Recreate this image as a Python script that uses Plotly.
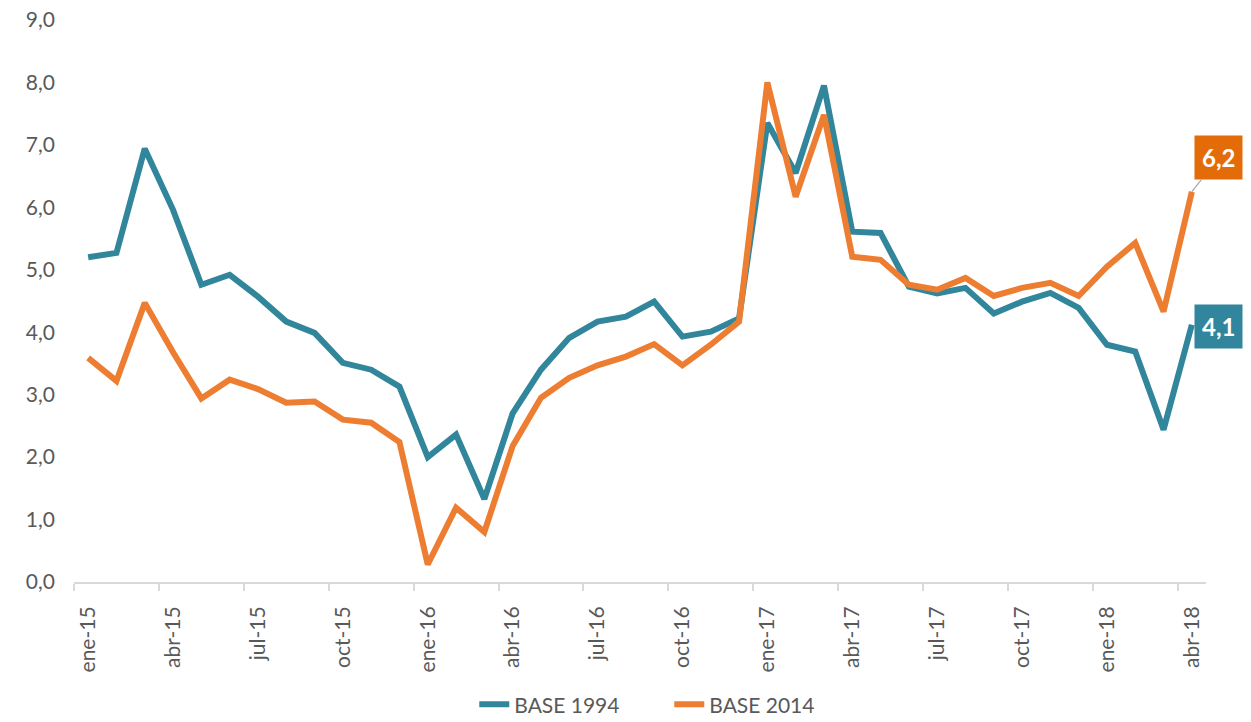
import plotly.graph_objects as go

months = ["ene", "feb", "mar", "abr", "may", "jun", "jul", "ago", "sep", "oct", "nov", "dic"]
categories = [f"{m}-{y}" for y in ["15", "16", "17", "18"] for m in months][:40]

base_1994 = [5.2, 5.27, 6.94, 5.96, 4.76, 4.92, 4.57, 4.17, 3.99, 3.51, 3.40, 3.13,
             2.00, 2.36, 1.33, 2.70, 3.40, 3.91, 4.17, 4.25, 4.49, 3.93, 4.01, 4.22,
             7.35, 6.55, 7.95, 5.61, 5.59, 4.73, 4.62, 4.71, 4.30, 4.49, 4.63, 4.39,
             3.80, 3.69, 2.44, 4.12]
base_2014 = [3.59, 3.22, 4.47, 3.68, 2.94, 3.24, 3.09, 2.87, 2.89, 2.60, 2.55, 2.24,
             0.28, 1.19, 0.80, 2.18, 2.95, 3.27, 3.47, 3.61, 3.81, 3.47, 3.80, 4.17,
             8.00, 6.17, 7.48, 5.21, 5.16, 4.76, 4.68, 4.87, 4.58, 4.71, 4.79, 4.58,
             5.05, 5.43, 4.33, 6.25]
y_ticks = [0, 1, 2, 3, 4, 5, 6, 7, 8, 9]
last_labels = ["4,1", "6,2"]

teal = "#31869B"
orange = "#ED7D31"
font_family = "Gill Sans, Lato, sans-serif"
grey_text = "#595959"

x = list(range(len(categories)))

fig = go.Figure()
fig.add_trace(go.Scatter(x=x, y=base_1994, mode="lines", name="BASE 1994",
                         line=dict(color=teal, width=6),
                         hoverinfo="skip"))
fig.add_trace(go.Scatter(x=x, y=base_2014, mode="lines", name="BASE 2014",
                         line=dict(color=orange, width=6),
                         hoverinfo="skip"))

label_idx = [i for i in range(0, len(categories), 3)]
boundaries = [i - 0.5 for i in range(0, len(categories) + 1, 3)]

fig.update_layout(
    width=1251, height=722,
    margin=dict(l=74, r=45, t=20, b=140),
    plot_bgcolor="white", paper_bgcolor="white",
    font=dict(family=font_family, color=grey_text, size=21),
    showlegend=True,
    legend=dict(orientation="h", x=0.535, xanchor="center", xref="container",
                y=0.024, yanchor="middle", yref="container",
                font=dict(size=21, color=grey_text), tracegroupgap=0,
                entrywidth=150, entrywidthmode="pixels"),
    xaxis=dict(
        automargin=False,
        range=[-0.5, len(categories) - 0.5],
        tickmode="array",
        tickvals=label_idx,
        ticktext=[categories[i] for i in label_idx],
        tickangle=-90,
        ticks="",
        ticklabelstandoff=14,
        showgrid=False, zeroline=False,
        showline=True, linecolor="#D9D9D9", linewidth=2,
        tickfont=dict(size=21, color=grey_text),
        minor=dict(tickmode="array", tickvals=boundaries, ticks="outside",
                   ticklen=7, tickwidth=2, tickcolor="#D9D9D9", showgrid=False),
    ),
    yaxis=dict(
        automargin=False,
        range=[0, 9],
        tickmode="array",
        tickvals=y_ticks,
        ticktext=[f"{v},0" for v in y_ticks],
        showgrid=False, zeroline=False, showline=False,
        tickfont=dict(size=21, color=grey_text),
        ticklabelstandoff=18,
    ),
)

fig.add_annotation(x=x[-1], y=base_2014[-1], text=f"<b>{last_labels[1]}</b>",
                   showarrow=True, arrowhead=0, arrowwidth=1.2, arrowcolor="#A6A6A6",
                   ax=27, ay=-34, bgcolor="#E36C09", borderpad=7,
                   font=dict(color="white", size=24, family=font_family))
fig.add_annotation(x=x[-1], y=base_1994[-1], text=f"<b>{last_labels[0]}</b>",
                   showarrow=False, xshift=27, yshift=-2, bgcolor="#31859C", borderpad=7,
                   font=dict(color="white", size=24, family=font_family))

fig.write_html("out.html", config={"responsive": False, "displayModeBar": False},
               post_script="document.body.style.margin='0';document.body.style.overflow='hidden';")
